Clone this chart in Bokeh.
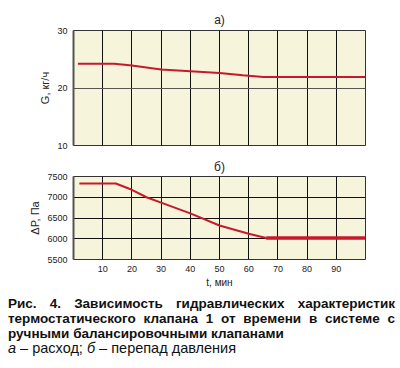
from bokeh.plotting import figure
from bokeh.layouts import column
from bokeh.models import FixedTicker, Div, Title
from bokeh.embed import file_html
from bokeh.resources import INLINE

# ---- data ----
t_G = [1.5, 14, 20, 30, 40, 50, 58, 65, 100]
G_vals = [24.2, 24.2, 23.9, 23.2, 22.9, 22.6, 22.2, 21.9, 21.9]

t_P = [2, 14.5, 20, 25, 30, 40, 50, 60, 66]
P_vals = [7330, 7330, 7180, 7000, 6870, 6610, 6320, 6120, 6020]
t_P_flat = [66, 100]
P_flat = [6020, 6020]

x_ticks = [10, 20, 30, 40, 50, 60, 70, 80, 90]
G_ticks = [10, 20, 30]
P_ticks = [5500, 6000, 6500, 7000, 7500]

caption_lines = [
    "Рис. 4. Зависимость гидравлических характеристик",
    "термостатического клапана 1 от времени в системе с",
    "ручными балансировочными клапанами",
]

FILL = "#f6f4da"
RED = "#c8182c"
FONT = "Liberation Sans"


def style(p, yticks, ygrid_color):
    p.background_fill_color = FILL
    p.border_fill_color = "white"
    p.outline_line_color = "#333333"
    p.outline_line_width = 1
    p.xgrid.ticker = FixedTicker(ticks=x_ticks)
    p.xgrid.grid_line_color = "#111111"
    p.xgrid.grid_line_width = 1
    p.ygrid.ticker = FixedTicker(ticks=yticks)
    p.ygrid.grid_line_color = ygrid_color
    p.ygrid.grid_line_width = 1
    ya = p.yaxis[0]
    ya.ticker = FixedTicker(ticks=yticks)
    ya.axis_line_color = "#555555"
    ya.axis_line_width = 2
    ya.major_tick_line_color = None
    ya.minor_tick_line_color = None
    ya.major_tick_out = 0
    ya.major_tick_in = 0
    ya.major_label_text_font = FONT
    ya.major_label_text_font_size = "9px"
    ya.major_label_text_color = "#222222"
    ya.major_label_standoff = 6
    ya.axis_label_text_font = FONT
    ya.axis_label_text_font_size = "11px"
    ya.axis_label_text_font_style = "normal"
    ya.axis_label_text_color = "#222222"
    ya.axis_label_standoff = 3


p1 = figure(width=392, height=150, x_range=(0, 100), y_range=(10, 30),
            output_backend="svg", toolbar_location=None,
            min_border_left=73, min_border_right=27, min_border_top=30,
            min_border_bottom=5)
p1.title = Title(text="а)", align="center", text_font=FONT,
                 text_font_size="12px", text_font_style="normal",
                 text_color="#222222", standoff=8)
p1.xaxis.visible = False
style(p1, G_ticks, "#555555")
p1.yaxis.axis_label = "G, кг/ч"
p1.line(t_G, G_vals, line_color=RED, line_width=2)

p2 = figure(width=392, height=140, x_range=(0, 100), y_range=(5500, 7500),
            output_backend="svg", toolbar_location=None,
            min_border_left=73, min_border_right=27, min_border_top=26,
            min_border_bottom=30)
p2.title = Title(text="б)", align="center", text_font=FONT,
                 text_font_size="12px", text_font_style="normal",
                 text_color="#222222", standoff=5)
style(p2, P_ticks, "#111111")
p2.yaxis.axis_label = "ΔP, Па"
xa = p2.xaxis[0]
xa.ticker = FixedTicker(ticks=x_ticks)
xa.axis_line_color = None
xa.major_tick_line_color = None
xa.minor_tick_line_color = None
xa.major_tick_out = 0
xa.major_tick_in = 0
xa.major_label_text_font = FONT
xa.major_label_text_font_size = "9px"
xa.major_label_text_color = "#222222"
xa.major_label_standoff = 6
xa.axis_label = "t, мин"
xa.axis_label_text_font = FONT
xa.axis_label_text_font_size = "10px"
xa.axis_label_text_font_style = "normal"
xa.axis_label_text_color = "#222222"
xa.axis_label_standoff = 2
p2.line(t_P, P_vals, line_color=RED, line_width=2)
p2.line(t_P_flat, P_flat, line_color=RED, line_width=3.5)

line_style = ("font-family:'Liberation Sans',Arial,sans-serif;font-size:13.5px;"
              "font-weight:bold;color:#111;line-height:14.8px;white-space:nowrap;")
html = (
    f"<div style=\"{line_style}text-align:justify;text-align-last:justify;white-space:normal;width:387px\">{caption_lines[0]}</div>"
    f"<div style=\"{line_style}text-align:justify;text-align-last:justify;white-space:normal;width:387px\">{caption_lines[1]}</div>"
    f"<div style=\"{line_style}\">{caption_lines[2]}</div>"
    "<div style=\"font-family:'Liberation Sans',Arial,sans-serif;font-size:14.5px;color:#111;line-height:14.8px;white-space:nowrap;\">"
    "<i>а</i> – расход; <i>б</i> – перепад давления</div>"
)
cap = Div(text=html, width=390, height=66,
          styles={"padding-top": "2px", "padding-left": "3px"})

layout = column(p1, p2, cap, spacing=0)
open("out.html", "w").write(file_html(layout, INLINE))
